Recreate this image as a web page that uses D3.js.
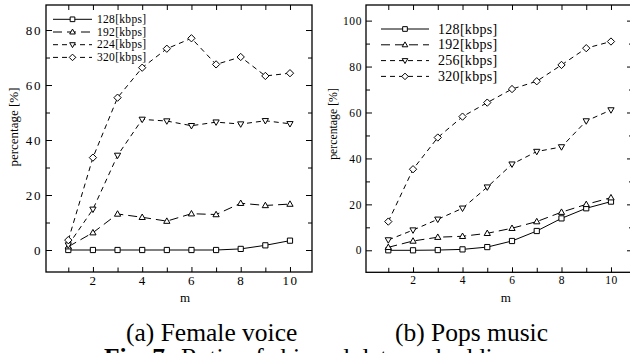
<!DOCTYPE html>
<html><head><meta charset="utf-8">
<script src="https://cdn.jsdelivr.net/npm/d3@7"></script>
<style>
body{margin:0;background:#fff;}
svg{display:block;}
svg text{font-family:"Liberation Serif","DejaVu Serif","Times New Roman",serif !important;fill:#000;}
</style></head><body>
<svg id="c" width="630" height="353"></svg>
<script>
// ---------- data ----------
const m = [1,2,3,4,5,6,7,8,9,10];

// (a) Female voice
const femaleLabels = ["128[kbps]","192[kbps]","224[kbps]","320[kbps]"];
const female128 = [0,0,0,0,0,0,0,0.4,1.7,3.4];
const female192 = [1.2,6.3,13.1,11.9,10.5,13.2,12.9,17,16.2,16.7];
const female224 = [1.8,14.8,34.4,47.5,46.9,45.2,46.5,45.8,47,45.9];
const female320 = [3.6,33.6,55.4,66.3,73.2,77,67.5,70.2,63.3,64.3];

// (b) Pops music
const popsLabels = ["128[kbps]","192[kbps]","256[kbps]","320[kbps]"];
const pops128 = [0,0,0.1,0.4,1.4,4.05,8.4,13.9,18.3,21.2];
const pops192 = [1.3,4.05,5.7,6.1,7.4,9.6,12.5,16.6,20,22.9];
const pops256 = [4.5,8.8,13.5,18.3,27.5,37.5,43,45,56.3,61.1];
const pops320 = [12.5,35.3,49.1,58.2,64.3,70.2,73.6,80.7,88,90.9];

// axes
const xDomainA = [0.095,10.894];
const yDomainA = [-8,89.1];
const yMajorA = [0,20,40,60,80];
const yMinorA = [10,30,50,70];
const xDomainB = [0.099,10.89];
const yDomainB = [-9.58,106.8];
const yMajorB = [0,20,40,60,80,100];
const yMinorB = [10,30,50,70,90];
const xMajor = [2,4,6,8,10];
const xAll = [1,2,3,4,5,6,7,8,9,10];

const captionA = "(a) Female voice";
const captionB = "(b) Pops music";
const figLabel = "Fig. 7:";
const figText = "Ratio of skipped data embedding";

// ---------- drawing ----------
const SERIF = '"Liberation Serif","DejaVu Serif","Times New Roman",serif';
const svg = d3.select("#c");
const markers = ["square","triangle","triangleDown","diamond"];
const dashes = [null,"9,5","5,4","5,4"];

function marker(g, type, x, y, s){
  let p;
  if(type==="square"){
    p = `M${x-s},${y-s}H${x+s}V${y+s}H${x-s}Z`;
  } else if(type==="triangle"){
    p = `M${x},${y-s*1.25}L${x+s*1.2},${y+s*0.85}L${x-s*1.2},${y+s*0.85}Z`;
  } else if(type==="triangleDown"){
    p = `M${x},${y+s*1.25}L${x+s*1.2},${y-s*0.85}L${x-s*1.2},${y-s*0.85}Z`;
  } else {
    p = `M${x},${y-s*1.4}L${x+s*1.4},${y}L${x},${y+s*1.4}L${x-s*1.4},${y}Z`;
  }
  g.append("path").attr("d",p).attr("fill","#fff").attr("stroke","#000").attr("stroke-width",1);
}

function panel(cfg){
  const g = svg.append("g");
  const x = d3.scaleLinear().domain(cfg.xDomain).range([cfg.left,cfg.right]);
  const y = d3.scaleLinear().domain(cfg.yDomain).range([cfg.bottom,cfg.top]);
  const fs = cfg.tickFont, ls = cfg.letterSpacing;

  function styleAxis(sel){
    sel.attr("font-family",SERIF);
    sel.select(".domain").remove();
    sel.selectAll("line").attr("stroke","#000").attr("stroke-width",1);
    sel.selectAll("text").attr("font-size",fs).attr("letter-spacing",ls)
      .attr("font-family",SERIF);
  }
  g.append("g").attr("transform",`translate(0,${cfg.bottom})`)
    .call(d3.axisBottom(x).tickValues(xMajor).tickSizeInner(-5).tickSizeOuter(0).tickPadding(4).tickFormat(d3.format("d")))
    .call(styleAxis);
  g.append("g").attr("transform",`translate(0,${cfg.bottom})`)
    .call(d3.axisBottom(x).tickValues(xAll.filter(v=>v%2)).tickSizeInner(-4.5).tickSizeOuter(0).tickFormat(""))
    .call(styleAxis);
  g.append("g").attr("transform",`translate(0,${cfg.top})`)
    .call(d3.axisTop(x).tickValues(xAll).tickSizeInner(-5).tickSizeOuter(0).tickFormat(""))
    .call(styleAxis);
  g.append("g").attr("transform",`translate(${cfg.left},0)`)
    .call(d3.axisLeft(y).tickValues(cfg.yMajor).tickSizeInner(-6).tickSizeOuter(0).tickPadding(4).tickFormat(d3.format("d")))
    .call(styleAxis);
  g.append("g").attr("transform",`translate(${cfg.left},0)`)
    .call(d3.axisLeft(y).tickValues(cfg.yMinor).tickSizeInner(-4).tickSizeOuter(0).tickFormat(""))
    .call(styleAxis);
  g.append("g").attr("transform",`translate(${cfg.right},0)`)
    .call(d3.axisRight(y).tickValues(cfg.yMajor).tickSizeInner(-6).tickSizeOuter(0).tickFormat(""))
    .call(styleAxis);
  g.append("g").attr("transform",`translate(${cfg.right},0)`)
    .call(d3.axisRight(y).tickValues(cfg.yMinor).tickSizeInner(-4).tickSizeOuter(0).tickFormat(""))
    .call(styleAxis);
  g.append("rect").attr("x",cfg.left).attr("y",cfg.top)
    .attr("width",cfg.right-cfg.left).attr("height",cfg.bottom-cfg.top)
    .attr("fill","none").attr("stroke","#000").attr("stroke-width",1.3);

  const line = d3.line().x((d,i)=>x(m[i])).y(d=>y(d));
  cfg.series.forEach((s,k)=>{
    g.append("path").datum(s).attr("d",line).attr("fill","none")
      .attr("stroke","#000").attr("stroke-width",1)
      .attr("stroke-dasharray",dashes[k]);
  });
  cfg.series.forEach((s,k)=>{
    s.forEach((v,i)=>marker(g,markers[k],x(m[i]),y(v),cfg.msize));
  });

  cfg.labels.forEach((lab,k)=>{
    const yy = cfg.legY + k*cfg.legDy;
    g.append("line").attr("x1",cfg.legX0).attr("x2",cfg.legX1).attr("y1",yy).attr("y2",yy)
      .attr("stroke","#000").attr("stroke-width",1).attr("stroke-dasharray",dashes[k]);
    marker(g,markers[k],(cfg.legX0+cfg.legX1)/2,yy,cfg.msize*0.9);
    g.append("text").attr("x",cfg.legText).attr("y",yy+cfg.legFont*0.33)
      .attr("font-family",SERIF)
      .attr("font-size",cfg.legFont).attr("letter-spacing",0.3).text(lab);
  });

  g.append("text").attr("transform",`translate(${cfg.ylabX},${cfg.ylabY}) rotate(-90)`)
    .attr("font-family",SERIF)
    .attr("text-anchor","middle").attr("font-size",cfg.ylabFont).text("percentage [%]");
  g.append("text").attr("x",cfg.mX).attr("y",301.5).attr("text-anchor","middle")
    .attr("font-family",SERIF)
    .attr("font-size",13).text("m");
}

panel({left:46,right:312,top:5,bottom:272,xDomain:xDomainA,yDomain:yDomainA,
  yMajor:yMajorA,yMinor:yMinorA,tickFont:13,letterSpacing:1.6,msize:2.6,
  series:[female128,female192,female224,female320],labels:femaleLabels,
  legX0:53,legX1:92,legText:97,legY:19.3,legDy:12.7,legFont:11.5,
  ylabX:18,ylabY:127,ylabFont:13,mX:185});

panel({left:366,right:633,top:5,bottom:272.3,xDomain:xDomainB,yDomain:yDomainB,
  yMajor:yMajorB,yMinor:yMinorB,tickFont:11.5,letterSpacing:0.6,msize:2.6,
  series:[pops128,pops192,pops256,pops320],labels:popsLabels,
  legX0:381,legX1:429,legText:438,legY:29,legDy:15.8,legFont:14,
  ylabX:337,ylabY:124,ylabFont:11.8,mX:505.7});

svg.append("text").attr("x",126).attr("y",341).attr("font-family",SERIF).attr("font-size",25.5).text(captionA);
svg.append("text").attr("x",395).attr("y",341).attr("font-family",SERIF).attr("font-size",25.5).text(captionB);
svg.append("text").attr("x",104).attr("y",366).attr("font-family",SERIF).attr("font-size",25.5).attr("font-weight","bold").text(figLabel);
svg.append("text").attr("x",181).attr("y",366).attr("font-family",SERIF).attr("font-size",25.5).text(figText);
</script></body></html>
